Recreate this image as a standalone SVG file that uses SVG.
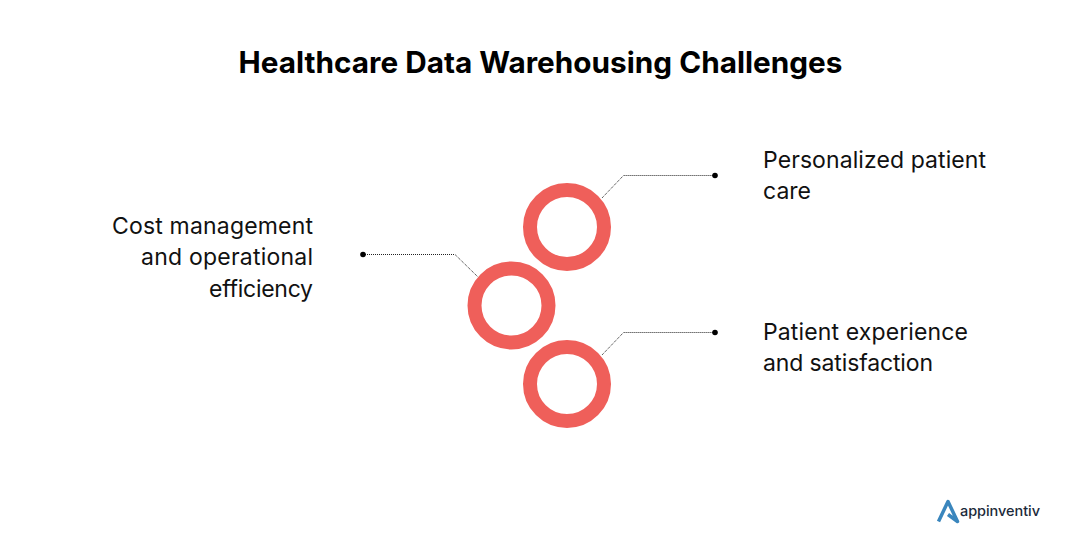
<svg xmlns="http://www.w3.org/2000/svg" width="1080" height="544" viewBox="0 0 1080 544">
<style>
text{font-family:"Inter","Liberation Sans",sans-serif;fill:#111}
.t{font-size:23px}
.e{text-anchor:end}
.r{fill:none;stroke:#ef5f5a;stroke-width:14}
.c{fill:none;stroke:#222;stroke-width:1;stroke-dasharray:1 1}
.d{fill:#000}
</style>
<rect width="1080" height="544" fill="#fff"/>
<text id="title" x="540.500" y="73" text-anchor="middle" textLength="604" lengthAdjust="spacingAndGlyphs" style="font-size:29.500px;font-weight:700;fill:#000">Healthcare Data Warehousing Challenges</text>
<g id="connectors">
<path class="c" d="M602 198L623.500 175.500H715"/>
<path class="c" d="M363 254.500H455L478 277"/>
<path class="c" d="M602 355L623.500 332.500H715"/>
<circle class="d" cx="715" cy="175.500" r="2.800"/>
<circle class="d" cx="363" cy="254.500" r="2.800"/>
<circle class="d" cx="715" cy="332.500" r="2.800"/>
</g>
<g id="node-top"><circle class="r" cx="567" cy="227" r="37"/>
<text class="t" x="763" y="168" textLength="223">Personalized patient</text><text class="t" x="763" y="199" textLength="48">care</text></g>
<g id="node-middle"><circle class="r" cx="511.500" cy="305.500" r="37"/>
<text class="t" x="112" y="234" textLength="201">Cost management</text><text class="t" x="141" y="265" textLength="172">and operational</text><text class="t" x="209" y="297" textLength="104">efficiency</text></g>
<g id="node-bottom"><circle class="r" cx="567" cy="384" r="37"/>
<text class="t" x="763" y="340" textLength="205">Patient experience</text><text class="t" x="763" y="371" textLength="170">and satisfaction</text></g>
<g id="logo">
<path d="M938.500 521.500L948 501.500L957.500 521.500L948 514.500" fill="none" stroke="#3a86bd" stroke-width="3.500" stroke-linejoin="round"/>
<text x="960" y="516" textLength="80" style="font-size:14.500px;font-weight:500;fill:#1b2a3a">appinventiv</text>
</g>
</svg>
